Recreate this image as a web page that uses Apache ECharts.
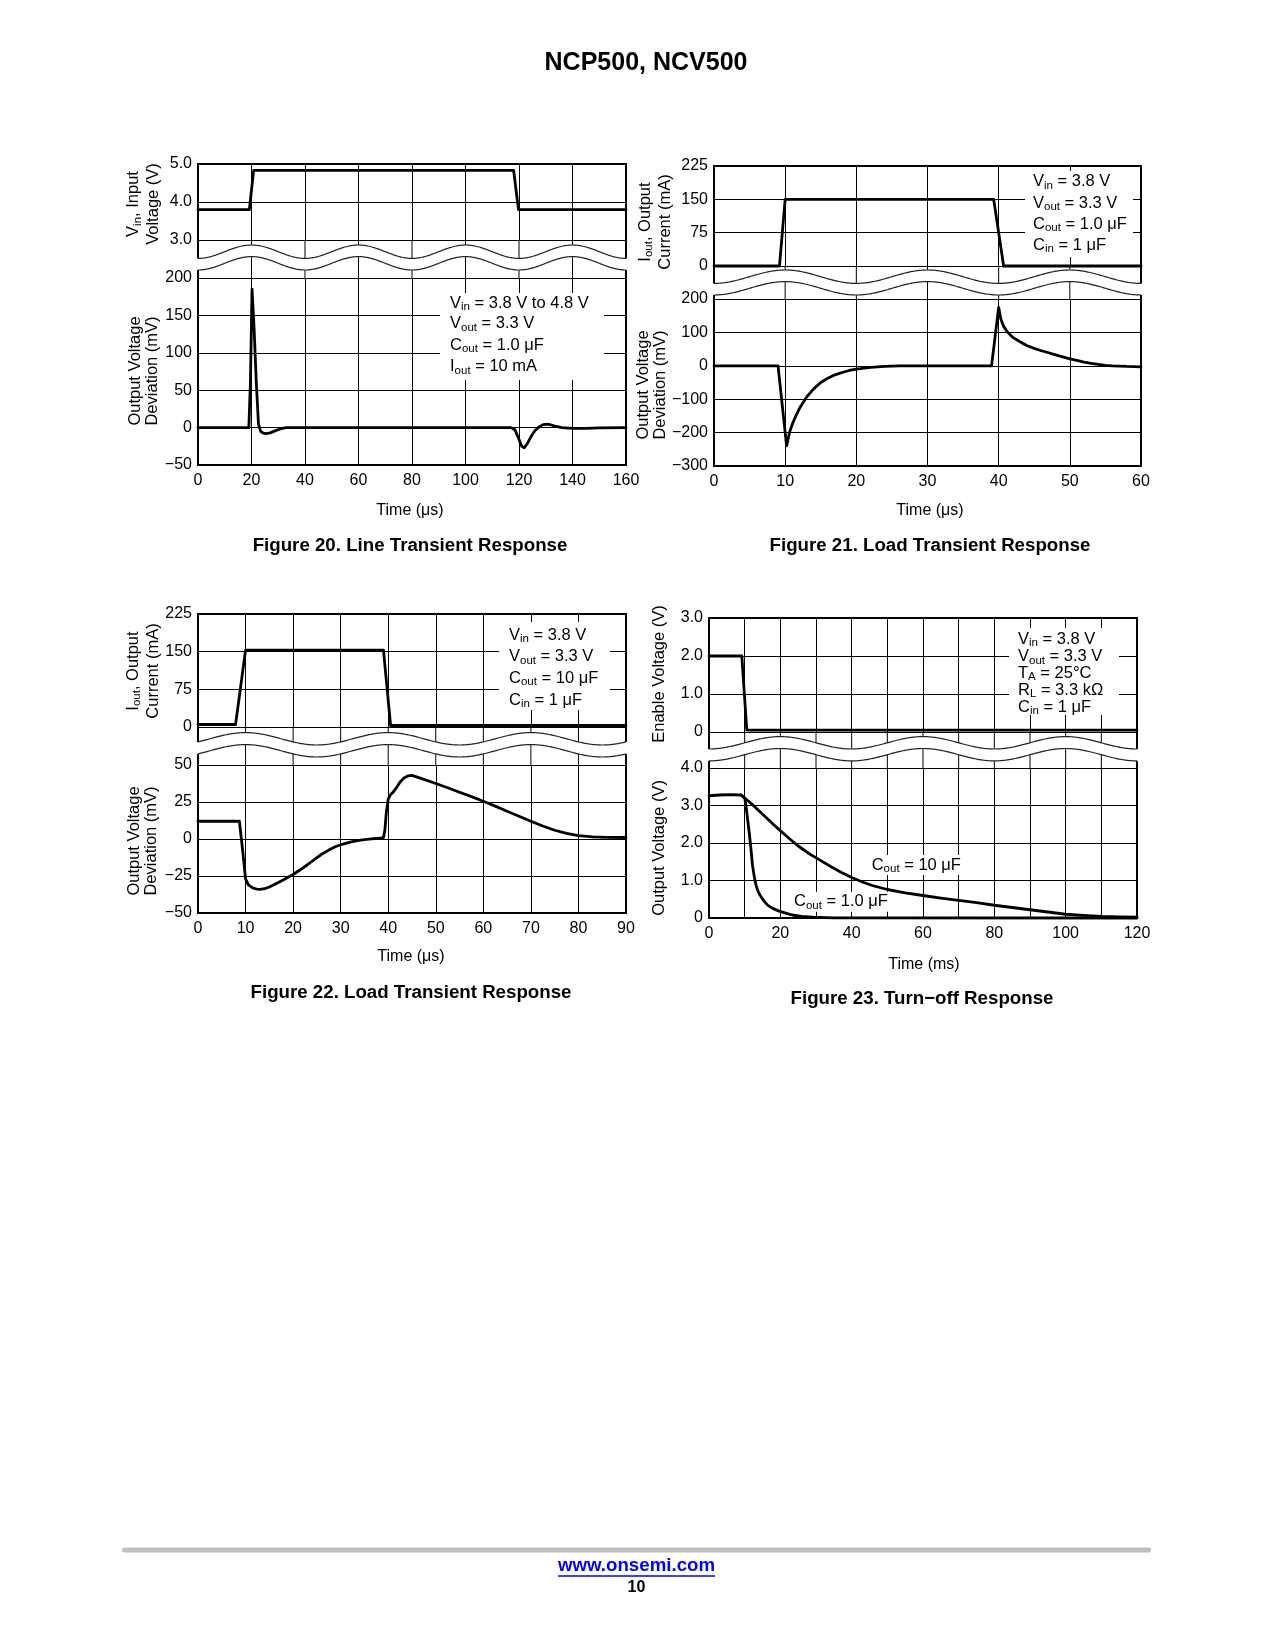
<!DOCTYPE html>
<html><head><meta charset="utf-8">
<script src="https://cdn.jsdelivr.net/npm/echarts@6/dist/echarts.min.js"></script>
<style>html,body{margin:0;padding:0;background:#fff}#c{width:1275px;height:1650px}</style>
</head><body><div id="c"></div>
<script>
// ---------- DATA ----------
// Figure 20 - Line transient
const f20VinT  = [0, 19.2, 20.8, 118, 119.8, 160];
const f20VinV  = [3.8, 3.8, 4.83, 4.83, 3.8, 3.8];
const f20VoutT = [0, 19, 19.6, 20.2, 21, 21.8, 22.6, 23.4, 24.5, 25.5, 27, 29, 31, 33, 117, 118.5, 119.8, 121, 122, 123, 124.5, 126, 127.5, 129, 130.5, 132, 134, 136, 140, 145, 150, 160];
const f20VoutV = [0, 0, 60, 185, 130, 60, 5, -5, -7.5, -8, -7, -4, -1.5, 0, 0, -3, -14, -25, -27, -22, -12, -4, 1, 4, 4.5, 3.5, 1.5, 0, -1, -1, -0.5, 0];
// Figure 21 - Load transient (Cout = 1.0 uF)
const f21IoutT = [0, 9.2, 10, 39.3, 40.7, 60];
const f21IoutV = [0, 0, 150, 150, 0, 0];
const f21VoutT = [0, 9, 10.2, 10.6, 11, 11.5, 12, 13, 14, 15, 16, 17, 18, 19, 20, 22, 24, 26, 39, 40, 40.3, 40.7, 41.2, 42, 43, 44, 45, 46, 47, 48, 49, 50, 51, 52, 53, 54, 55, 56, 57, 58, 60];
const f21VoutV = [0, 0, -240, -200, -175, -150, -128, -94, -69, -50, -37, -27, -20, -14, -10, -5, -2, 0, 0, 175, 140, 118, 102, 85, 72, 60, 52, 45, 39, 33, 27, 21, 16, 11, 7, 4, 1.5, 0, -1, -2, -3];
// Figure 22 - Load transient (Cout = 10 uF)
const f22IoutT = [0, 7.9, 10, 39, 40.5, 90];
const f22IoutV = [5, 5, 153, 153, 3, 3];
const f22VoutT = [0, 8.7, 9.4, 10, 10.6, 11.5, 12.3, 13, 14, 15, 16.5, 18, 20, 21.5, 23, 24.5, 26, 27.5, 29, 30.5, 32, 33.5, 35, 36.5, 38, 39, 39.3, 39.6, 40, 40.5, 41, 41.7, 42.5, 43.3, 44.2, 45, 47.5, 50, 52.5, 55, 57.5, 60, 62.5, 65, 67.5, 70, 72.5, 75, 77.5, 80, 83, 86, 90];
const f22VoutV = [12, 12, -8, -27, -31, -33, -33.8, -34, -33.6, -32.4, -30, -27.5, -24, -20.8, -17.4, -13.7, -10.3, -7.5, -5.1, -3.4, -2.1, -1.1, -0.4, 0.1, 0.5, 1, 6, 18, 27, 30, 31.5, 34.5, 38.5, 41.2, 42.7, 43, 40.3, 37.5, 34.6, 31.6, 28.6, 25.5, 22.2, 18.8, 15.4, 12, 8.8, 5.9, 3.8, 2.3, 1.5, 1.1, 1];
// Figure 23 - Turn-off response
const f23EnT   = [0, 9.2, 10.6, 120];
const f23EnV   = [2.0, 2.0, 0.05, 0.05];
const f23V1T   = [0, 3, 6, 9, 10, 10.3, 10.8, 11.3, 11.8, 12.2, 12.7, 13.2, 13.6, 14, 14.7, 15.6, 16.6, 18, 19.5, 21.5, 23.3, 26, 29, 35, 120];
const f23V1V   = [3.26, 3.28, 3.29, 3.28, 3.2, 3.05, 2.65, 2.26, 1.8, 1.4, 1.1, 0.87, 0.75, 0.66, 0.55, 0.43, 0.33, 0.25, 0.19, 0.13, 0.08, 0.04, 0.02, 0.005, 0];
const f23V10T  = [9, 10, 12, 14, 16, 18, 20, 22.5, 25, 28, 31, 34, 37, 40, 43, 46, 50, 55, 60, 65, 70, 75, 80, 85, 90, 95, 100, 105, 110, 115, 120];
const f23V10V  = [3.28, 3.2, 3.04, 2.86, 2.68, 2.5, 2.33, 2.12, 1.92, 1.72, 1.55, 1.38, 1.22, 1.08, 0.96, 0.86, 0.76, 0.67, 0.6, 0.53, 0.47, 0.41, 0.34, 0.28, 0.22, 0.16, 0.1, 0.07, 0.04, 0.03, 0.02];

// ---------- LAYOUT / STYLE ----------
const FONT = '"Liberation Sans", Arimo, Arial, Helvetica, sans-serif';
const minus = s => String(s).replace('-', '\u2212');
const fix1 = v => v === 0 ? '0' : v.toFixed(1);
const F = [
  {L:198, R:626, tTop:164, tBot:240, bTop:278, bBot:465, x:[0,160,20], xf:v=>String(v),
   yt:[3,5,1], ytf:v=>v.toFixed(1), yb:[-50,200,50], ybf:v=>minus(v),
   wave:{cu:251.7, cl:263.3, A:6.7, cells:2, crest:20}},
  {L:714, R:1141, tTop:166, tBot:266, bTop:299, bBot:466, x:[0,60,10], xf:v=>String(v),
   yt:[0,225,75], ytf:v=>String(v), yb:[-300,200,100], ybf:v=>minus(v),
   wave:{cu:276.7, cl:288.3, A:6.7, cells:2, crest:10}},
  {L:198, R:626, tTop:614, tBot:727, bTop:765, bBot:913, x:[0,90,10], xf:v=>String(v),
   yt:[0,225,75], ytf:v=>String(v), yb:[-50,50,25], ybf:v=>minus(v),
   wave:{cu:738.8, cl:750.8, A:6.2, cells:3, crest:10}},
  {L:709, R:1137, tTop:618, tBot:732, bTop:768, bBot:918, x:[0,120,10], xf:v=>(v%20===0?String(v):''),
   yt:[0,3,1], ytf:fix1, yb:[0,4,1], ybf:fix1,
   wave:{cu:742.8, cl:754.7, A:6.2, cells:4, crest:20}}
];

const zip = (t, v) => t.map((x, i) => [x, v[i]]);
const grids = [], xAxes = [], yAxes = [], yRight = [];
const lab = {fontSize:16, color:'#000', fontFamily:FONT};
F.forEach((f, k) => {
  [[f.tTop, f.tBot, f.yt, f.ytf, true], [f.bTop, f.bBot, f.yb, f.ybf, false]].forEach(([t, b, y, yf, isTop], j) => {
    const g = 2*k + j;
    grids.push({left:f.L, top:t, width:f.R - f.L, height:b - t});
    xAxes.push({type:'value', gridIndex:g, min:f.x[0], max:f.x[1], interval:f.x[2],
      position: isTop ? 'top' : 'bottom',
      axisLine:{show:true, onZero:false, lineStyle:{color:'#000', width:2}},
      axisTick:{show:false},
      axisLabel:{show:!isTop, formatter:f.xf, margin:8, showMinLabel:true, showMaxLabel:true, ...lab},
      splitLine:{show:true, lineStyle:{color:'#000', width:1}}});
    yAxes.push({type:'value', gridIndex:g, min:y[0], max:y[1], interval:y[2], position:'left',
      axisLine:{show:true, onZero:false, lineStyle:{color:'#000', width:2}},
      axisTick:{show:false},
      axisLabel:{formatter:yf, margin:6, showMinLabel:true, showMaxLabel:true, ...lab},
      splitLine:{show:true, lineStyle:{color:'#000', width:1}}});
    yRight.push({type:'value', gridIndex:g, min:y[0], max:y[1], interval:y[2], position:'right',
      axisLine:{show:true, onZero:false, lineStyle:{color:'#000', width:2}},
      axisTick:{show:false}, axisLabel:{show:false}, splitLine:{show:false}});
  });
});

const line = (g, data) => ({type:'line', xAxisIndex:g, yAxisIndex:g, data, showSymbol:false,
  symbol:'none', clip:false, smooth:false, animation:false,
  lineStyle:{color:'#000', width:2.8, join:'round', cap:'round'}, z:5});

const series = [
  line(0, zip(f20VinT, f20VinV)),
  line(1, zip(f20VoutT, f20VoutV)),
  line(2, zip(f21IoutT, f21IoutV)),
  line(3, zip(f21VoutT, f21VoutV)),
  line(4, zip(f22IoutT, f22IoutV)),
  line(5, zip(f22VoutT, f22VoutV)),
  line(6, zip(f23EnT, f23EnV)),
  line(7, zip(f23V1T, f23V1V)),
  line(7, zip(f23V10T, f23V10V))
];

const chart = echarts.init(document.getElementById('c'), null, {renderer:'canvas'});
chart.setOption({animation:false, backgroundColor:'#fff', grid:grids, xAxis:xAxes, yAxis:yAxes.concat(yRight), series});

// ---------- decorations and texts ----------
const RICH = {
  n:{fontSize:16.5, fontFamily:FONT, fill:'#000', lineHeight:20},
  s:{fontSize:11.5, fontFamily:FONT, fill:'#000', lineHeight:11, verticalAlign:'bottom'}
};
const els = [];
function T(x, y, text, o) {
  o = o || {};
  els.push({type:'text', x, y, rotation:o.rot || 0, z:o.z || 30,
    style:Object.assign({text, rich:RICH, fontSize:o.size || 16.5, fontWeight:o.bold ? 'bold' : 'normal',
      fontFamily:FONT, fill:o.fill || '#000', align:o.align || 'center', verticalAlign:'middle',
      lineHeight:o.lh || 20}, o.extra || {})});
}
function R(x, y, w, h) { els.push({type:'rect', shape:{x, y, width:w, height:h}, style:{fill:'#fff'}, z:25}); }

F.forEach((f, k) => {
  const gx = 2*k + 1;
  const [x0, x1, dx] = f.x;
  const n = Math.round((x1 - x0) / dx);
  for (let i = 0; i <= n; i++) {
    const px = chart.convertToPixel({xAxisIndex:gx}, x0 + i*dx);
    els.push({type:'line', shape:{x1:px, y1:f.tBot, x2:px, y2:f.bTop},
      style:{stroke:'#000', lineWidth:(i === 0 || i === n) ? 2 : 1}, z:10});
  }
  const w = f.wave;
  const cx = chart.convertToPixel({xAxisIndex:gx}, w.crest);
  const P = w.cells * (f.R - f.L) / n;
  const up = [], lo = [];
  for (let px = f.L - 2; px <= f.R + 2; px += 1) {
    const c = Math.cos(2*Math.PI*(px - cx)/P);
    up.push([px, w.cu - w.A*c]);
    lo.push([px, w.cl - w.A*c]);
  }
  els.push({type:'polygon', shape:{points:up.concat(lo.slice().reverse())}, style:{fill:'#fff'}, z:11});
  const upl = up.filter(p => p[0] >= f.L && p[0] <= f.R), lol = lo.filter(p => p[0] >= f.L && p[0] <= f.R);
  els.push({type:'polyline', shape:{points:upl}, style:{stroke:'#222', lineWidth:1.2, fill:null}, z:12});
  els.push({type:'polyline', shape:{points:lol}, style:{stroke:'#222', lineWidth:1.2, fill:null}, z:12});
});

// Page header & captions
T(646, 63, 'NCP500, NCV500', {size:25, bold:true});
T(410, 546, 'Figure 20. Line Transient Response', {size:18.7, bold:true});
T(930, 546, 'Figure 21. Load Transient Response', {size:18.7, bold:true});
T(411, 993, 'Figure 22. Load Transient Response', {size:18.7, bold:true});
T(922, 999, 'Figure 23. Turn\u2212off Response', {size:18.7, bold:true});
T(410, 511, 'Time (\u03bcs)', {size:16});
T(930, 511, 'Time (\u03bcs)', {size:16});
T(411, 957, 'Time (\u03bcs)', {size:16});
T(924, 965, 'Time (ms)', {size:16});

// Axis names (rotated)
const rot = Math.PI/2;
T(143.7, 204, '{n|V}{s|in}{n|, Input}\n{n|Voltage (V)}', {rot, lh:17});
T(143.7, 371, 'Output Voltage\nDeviation (mV)', {rot, lh:17});
T(655, 222, '{n|I}{s|out}{n|, Output}\n{n|Current (mA)}', {rot, lh:17});
T(651.5, 385, 'Output Voltage\nDeviation (mV)', {rot, lh:17});
T(143.3, 671, '{n|I}{s|out}{n|, Output}\n{n|Current (mA)}', {rot, lh:17});
T(143.3, 841, 'Output Voltage\nDeviation (mV)', {rot, lh:17});
T(659.6, 674, 'Enable Voltage (V)', {rot});
T(659.6, 848, 'Output Voltage (V)', {rot});

// Annotation boxes
function box(rx, ry, rw, rh, tx, ys, lines) {
  R(rx, ry, rw, rh);
  lines.forEach((s, i) => T(tx, ys[i], s, {align:'left'}));
}
box(440, 293, 164, 87, 450, [303, 323.5, 345, 366.5], [
  '{n|V}{s|in}{n| = 3.8 V to 4.8 V}', '{n|V}{s|out}{n| = 3.3 V}',
  '{n|C}{s|out}{n| = 1.0 \u03bcF}', '{n|I}{s|out}{n| = 10 mA}']);
box(1025, 171, 108, 86, 1033, [181.7, 203, 224, 245], [
  '{n|V}{s|in}{n| = 3.8 V}', '{n|V}{s|out}{n| = 3.3 V}',
  '{n|C}{s|out}{n| = 1.0 \u03bcF}', '{n|C}{s|in}{n| = 1 \u03bcF}']);
box(499, 622, 111, 88, 509, [635, 656.7, 678.3, 700], [
  '{n|V}{s|in}{n| = 3.8 V}', '{n|V}{s|out}{n| = 3.3 V}',
  '{n|C}{s|out}{n| = 10 \u03bcF}', '{n|C}{s|in}{n| = 1 \u03bcF}']);
box(1009, 628, 110, 87, 1018, [639.3, 656.7, 673.3, 690, 707.3], [
  '{n|V}{s|in}{n| = 3.8 V}', '{n|V}{s|out}{n| = 3.3 V}', '{n|T}{s|A}{n| = 25\u00b0C}',
  '{n|R}{s|L}{n| = 3.3 k\u03a9}', '{n|C}{s|in}{n| = 1 \u03bcF}']);
T(869.7, 865, '{n|C}{s|out}{n| = 10 \u03bcF}', {align:'left', extra:{backgroundColor:'#fff', padding:[0,2,0,2]}});
T(792, 901.7, '{n|C}{s|out}{n| = 1.0 \u03bcF}', {align:'left', extra:{backgroundColor:'#fff', padding:[0,2,0,2]}});

// Footer
els.push({type:'rect', shape:{x:122, y:1547.5, width:1029, height:5, r:2.5}, style:{fill:'#c0c0c0'}, z:30});
T(636.5, 1566, 'www.onsemi.com', {size:18.7, bold:true, fill:'#0000ff'});
els.push({type:'line', shape:{x1:558, y1:1576, x2:715, y2:1576}, style:{stroke:'#0000ff', lineWidth:1.5}, z:30});
T(636.5, 1587.5, '10', {size:16, bold:true});

chart.setOption({graphic:{elements:els}});
</script></body></html>
